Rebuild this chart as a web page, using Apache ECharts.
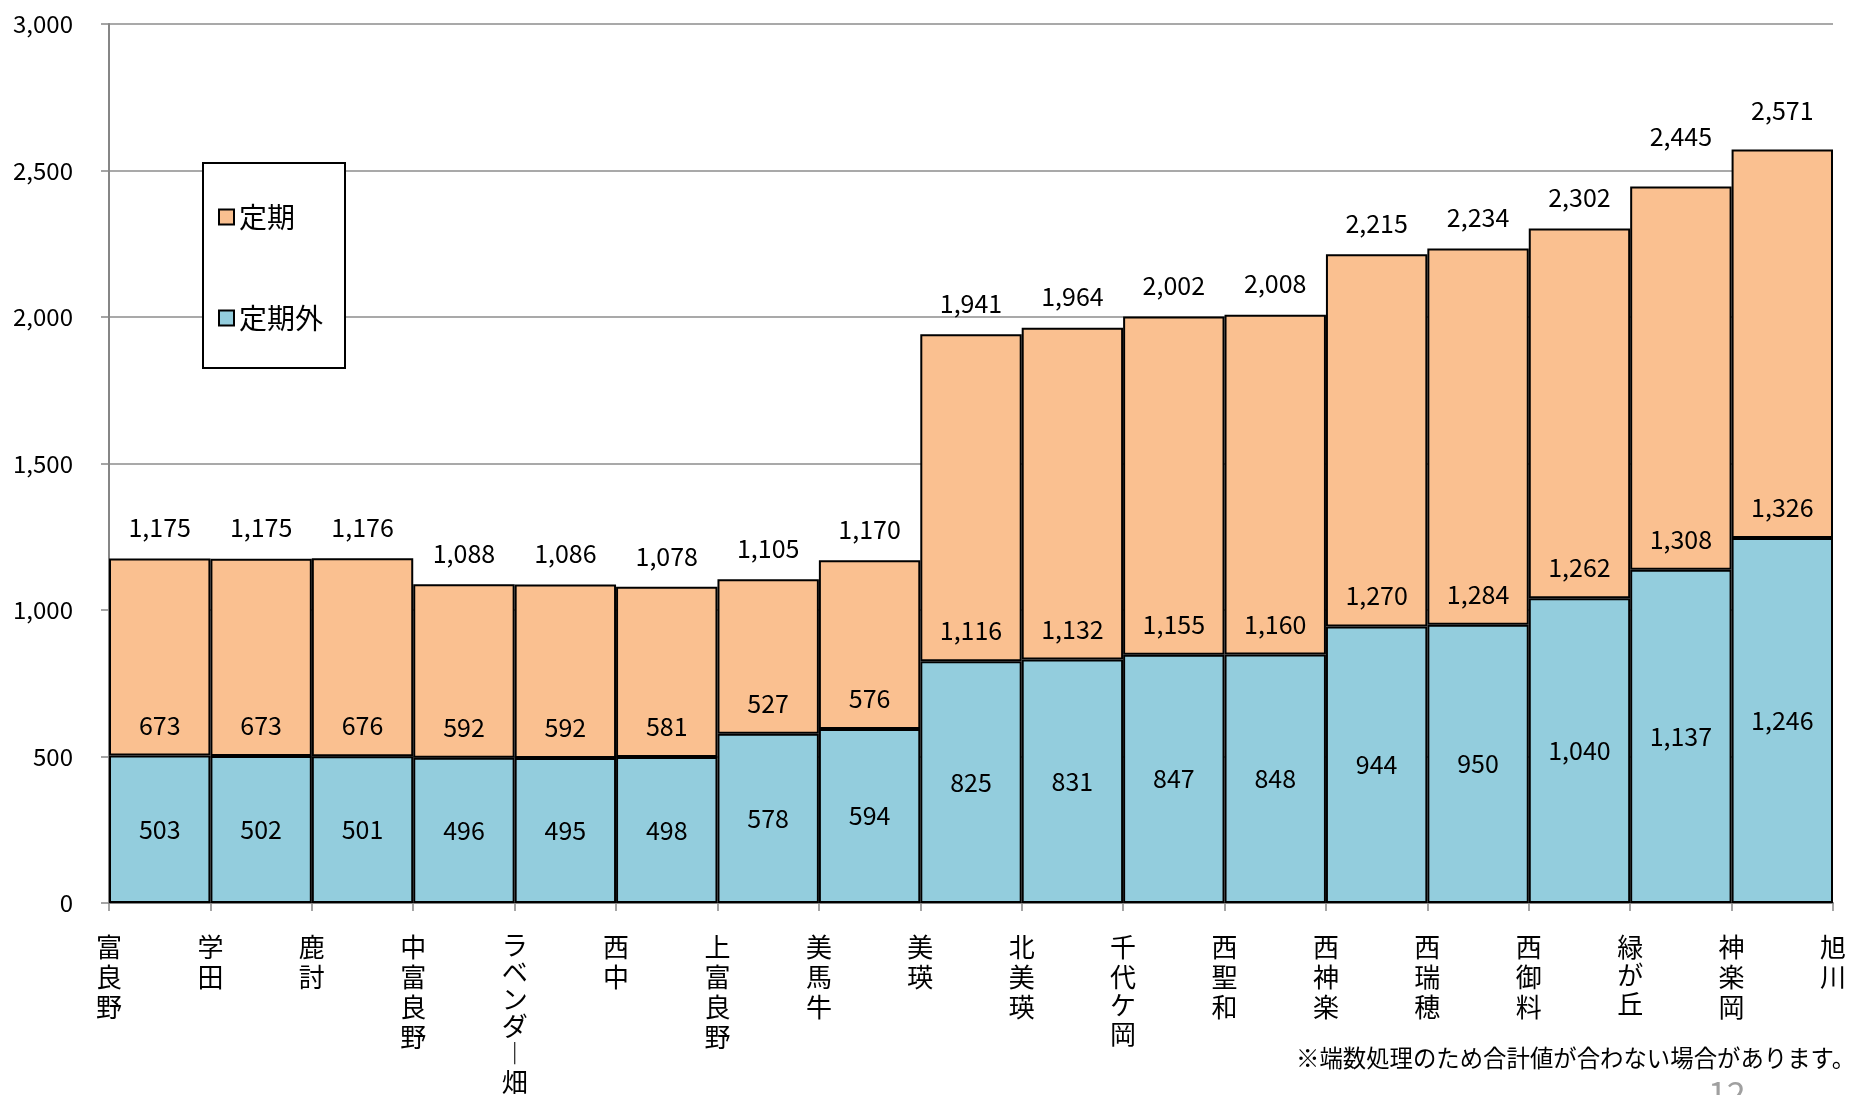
<!DOCTYPE html>
<html>
<head>
<meta charset="utf-8">
<style>
html,body{margin:0;padding:0;background:#fff;}
#main{width:1849px;height:1095px;}
</style>
<script src="https://cdn.jsdelivr.net/npm/echarts@6/dist/echarts.min.js"></script>
</head>
<body>
<div id="main"></div>
<script>
const stations = ['富良野','学田','鹿討','中富良野','ラベンダー畑','西中','上富良野','美馬牛','美瑛','北美瑛','千代ケ岡','西聖和','西神楽','西瑞穂','西御料','緑が丘','神楽岡','旭川'];
const segments = stations.slice(0, -1).map((s, i) => s + '～' + stations[i + 1]);
const teikiGai = [503, 502, 501, 496, 495, 498, 578, 594, 825, 831, 847, 848, 944, 950, 1040, 1137, 1246];
const teiki = [673, 673, 676, 592, 592, 581, 527, 576, 1116, 1132, 1155, 1160, 1270, 1284, 1262, 1308, 1326];
const totals = [1175, 1175, 1176, 1088, 1086, 1078, 1105, 1170, 1941, 1964, 2002, 2008, 2215, 2234, 2302, 2445, 2571];
const yMax = 3000;
const yInterval = 500;
const footnote = '※端数処理のため合計値が合わない場合があります。';
const pageNo = '12';

// label placement (style only): extra lift in px for some total labels
const totalLabelDistance = 18.5;
const totalLabelExtraLift = {15: 19, 16: 8};

const FONT = '"Noto Sans CJK JP", "Noto Sans", sans-serif';
const fmt = v => Number(v).toLocaleString('en-US');
const axisGray = '#868686';
const isKana = c => /[\u3040-\u30ff]/.test(c);

const totalItems = totals.map((v, i) => totalLabelExtraLift[i]
  ? {value: v, label: {distance: totalLabelDistance + totalLabelExtraLift[i]}}
  : v);

const chart = echarts.init(document.getElementById('main'), null, {renderer: 'canvas'});
chart.setOption({
  animation: false,
  backgroundColor: '#fff',
  textStyle: {fontFamily: FONT, color: '#000'},
  grid: {left: 109, right: 16, top: 24, bottom: 192, containLabel: false, outerBoundsMode: 'none'},
  legend: {
    data: ['定期', '定期外'],
    orient: 'vertical',
    left: 203, top: 163,
    padding: [40, 22, 36, 15],
    itemGap: 73,
    itemWidth: 15, itemHeight: 15,
    icon: 'rect',
    backgroundColor: '#fff',
    borderColor: '#000', borderWidth: 2,
    textStyle: {fontSize: 28, lineHeight: 28, color: '#000', fontFamily: FONT},
    selectedMode: false
  },
  xAxis: [
    {
      type: 'category', data: segments, position: 'bottom',
      boundaryGap: true,
      axisLine: {show: false}, axisTick: {show: false}, axisLabel: {show: false},
      splitLine: {show: false}
    },
    {
      type: 'category', data: stations, position: 'bottom',
      boundaryGap: false,
      axisLine: {show: true, lineStyle: {color: axisGray, width: 2}},
      axisTick: {show: true, length: 8, lineStyle: {color: axisGray, width: 1.5}},
      axisLabel: {
        interval: 0, margin: 29, fontSize: 26, color: '#000', fontFamily: FONT,
        verticalAlign: 'top',
        formatter: v => v.split('').map(c => {
          const ch = c === 'ー' ? '︱' : c;
          return isKana(c) ? '{a|' + ch + '}' : '{k|' + ch + '}';
        }).join('\n'),
        rich: {
          k: {fontSize: 26, lineHeight: 30, fontFamily: FONT, color: '#000'},
          a: {fontSize: 26, lineHeight: 27, fontFamily: FONT, color: '#000'}
        }
      },
      splitLine: {show: false}
    }
  ],
  yAxis: {
    type: 'value', min: 0, max: yMax, interval: yInterval,
    axisLine: {show: true, lineStyle: {color: axisGray, width: 2}},
    axisTick: {show: true, length: 8, lineStyle: {color: axisGray, width: 1.5}},
    axisLabel: {fontSize: 24, color: '#000', margin: 36, fontFamily: FONT, formatter: v => fmt(v)},
    splitLine: {show: true, lineStyle: {color: '#8c8c8c', width: 1.5}}
  },
  series: [
    {
      name: '定期外', type: 'bar', stack: 'total', xAxisIndex: 0,
      data: teikiGai, barWidth: '100%', barGap: '-100%', barCategoryGap: 0,
      itemStyle: {color: '#93CDDD', borderColor: '#000', borderWidth: 2},
      label: {show: true, position: 'inside', fontSize: 25, color: '#000', fontFamily: FONT, formatter: p => fmt(p.value)},
      z: 2
    },
    {
      name: '定期', type: 'bar', stack: 'total', xAxisIndex: 0,
      data: teiki, barWidth: '100%', barGap: '-100%', barCategoryGap: 0,
      itemStyle: {color: '#FAC090', borderColor: '#000', borderWidth: 2},
      label: {show: true, position: 'insideBottom', distance: 18, fontSize: 25, color: '#000', fontFamily: FONT, formatter: p => fmt(p.value)},
      z: 2
    },
    {
      name: '合計', type: 'bar', xAxisIndex: 0,
      data: totalItems, barWidth: '100%', barGap: '-100%', barCategoryGap: 0,
      itemStyle: {color: 'rgba(0,0,0,0)', borderWidth: 0},
      label: {show: true, position: 'top', distance: totalLabelDistance, fontSize: 25, color: '#000', fontFamily: FONT, formatter: p => fmt(p.value)},
      silent: true,
      z: 3
    }
  ],
  graphic: [
    {type: 'text', left: 1296, top: 1046, style: {text: footnote, font: '23.4px ' + FONT, fill: '#000'}},
    {type: 'text', left: 1708, top: 1076, style: {text: pageNo, font: '34px ' + FONT, fill: '#a0a0a0'}}
  ]
});
</script>
</body>
</html>
